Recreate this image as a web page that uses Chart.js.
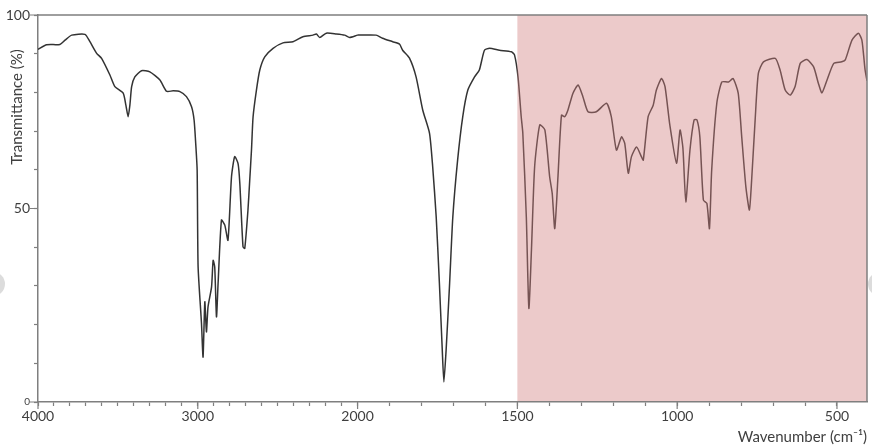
<!DOCTYPE html>
<html><head><meta charset="utf-8">
<script src="https://cdn.jsdelivr.net/npm/chart.js@4/dist/chart.umd.min.js"></script>
<style>html,body{margin:0;padding:0;background:#fff;overflow:hidden}</style>
</head><body>
<canvas id="c" width="872" height="448" style="width:872px;height:448px;display:block"></canvas>
<script>
// ---- data (wavenumber in cm^-1, transmittance in %) ----
const wavenumbers = [4000,3946,3863,3831,3789,3706,3675,3633,3602,3550,3519,3467,3450,3436,3425,3414,3394,3352,3300,3237,3196,3154,3112,3071,3039,3023,3013,3004,2998,2977,2967,2956,2946,2936,2914,2904,2894,2883,2873,2852,2831,2811,2789,2769,2748,2737,2717,2706,2686,2675,2664,2654,2633,2612,2581,2529,2467,2404,2342,2279,2258,2237,2196,2133,2081,2050,2000,1995,1942,1922,1890,1869,1859,1838,1817,1796,1775,1765,1754,1744,1735,1730,1723,1712,1702,1687,1671,1655,1634,1619,1603,1587,1556,1519,1509,1498,1488,1483,1472,1464,1456,1446,1430,1414,1399,1391,1383,1373,1362,1352,1342,1326,1310,1295,1279,1253,1221,1206,1190,1174,1164,1153,1143,1127,1112,1106,1091,1075,1065,1049,1038,1023,1002,991,982,973,960,947,938,929,918,907,899,892,876,860,839,825,809,798,785,774,767,756,746,730,693,678,662,646,631,615,594,573,558,547,531,510,485,474,453,433,422,412,406];
const transmittance = [91.1,92.3,92.4,93.5,94.8,95.0,93.1,90.1,88.8,84.5,81.5,79.8,76.7,73.7,76.7,81.5,84.0,85.6,85.3,83.2,80.3,80.4,80.2,78.9,76.3,72.8,66.8,59.9,34.9,20.4,11.6,25.9,18.1,24.6,29.7,36.6,34.9,22.0,30.6,47.0,45.7,41.8,58.2,63.4,61.6,56.5,40.1,39.7,49.6,57.3,65.1,73.7,80.6,85.8,89.2,91.4,92.8,93.1,94.4,94.8,95.1,94.2,95.3,95.1,94.8,94.2,94.8,94.8,94.8,94.0,93.1,92.5,90.9,88.9,84.0,75.4,69.5,60.8,47.8,30.7,13.4,5.2,13.4,30.7,47.8,62.5,73.7,80.6,84.0,85.8,90.9,91.4,90.9,90.5,89.7,84.0,73.7,69.5,47.8,24.2,39.2,60.8,71.6,70.3,58.2,53.9,44.8,58.2,74.1,73.7,75.4,79.8,81.9,78.9,75.0,75.0,77.2,73.7,65.1,68.5,66.8,59.1,63.4,65.9,63.4,62.5,73.7,76.7,80.6,83.6,81.5,71.6,61.7,70.3,65.6,51.7,65.1,72.9,72.9,68.5,52.2,51.3,44.8,59.9,77.2,82.7,82.7,83.6,79.8,68.5,55.6,49.6,57.3,72.9,84.9,87.9,88.8,85.8,80.6,79.3,81.5,87.5,88.5,86.6,82.3,79.9,83.2,87.5,87.9,88.4,93.5,95.3,93.5,85.8,83.0];
const xTickLabels = [4000, 3000, 2000, 1500, 1000, 500];
const yTickLabels = [0, 50, 100];
const shadedFrom = 1500;
const xMinValue = 406, xMaxValue = 4000, scaleBreak = 2000;
const xTitle = 'Wavenumber (cm\u207B\u00B9)';
const yTitle = 'Transmittance (%)';

// ---- IR axis: scale doubles below 2000 cm^-1 ----
class IRScale extends Chart.LinearScale {
  _u(v) { return v >= scaleBreak ? xMaxValue - v : (xMaxValue - scaleBreak) + 2 * (scaleBreak - v); }
  getPixelForValue(v) {
    if (v === null || v === undefined || isNaN(v)) return NaN;
    return this.getPixelForDecimal(this._u(v) / this._u(this.min));
  }
  getValueForPixel(p) {
    const u = this.getDecimalForPixel(p) * this._u(this.min);
    const b = xMaxValue - scaleBreak;
    return u <= b ? xMaxValue - u : scaleBreak - (u - b) / 2;
  }
}
IRScale.id = 'irscale';
IRScale.defaults = Chart.LinearScale.defaults;
Chart.register(IRScale);

const points = wavenumbers.map((w, i) => ({ x: w, y: transmittance[i] }));
const AXIS = '#7f7f7f';
const TXT = '#3f3f3f';
const FONT = 'Lato, "Liberation Sans", sans-serif';

const extras = {
  id: 'extras',
  beforeDraw(chart) {
    const c = chart.ctx;
    c.save();
    c.fillStyle = '#dcdcdc';
    c.beginPath(); c.arc(-7, 284, 12, 0, Math.PI * 2); c.fill();
    c.beginPath(); c.arc(880, 284, 12, 0, Math.PI * 2); c.fill();
    c.restore();
  },
  afterDatasetsDraw(chart) {
    const c = chart.ctx, a = chart.chartArea, xs = chart.scales.x, ys = chart.scales.y;
    c.save();
    const x0 = xs.getPixelForValue(shadedFrom);
    c.fillStyle = 'rgba(209,129,129,0.42)';
    c.fillRect(x0, a.top, a.right - x0, a.bottom - a.top - 1);
    // frame top / right
    c.strokeStyle = AXIS; c.lineWidth = 1.5;
    c.beginPath();
    c.moveTo(a.left, a.top); c.lineTo(a.right, a.top);
    c.moveTo(a.right, a.top); c.lineTo(a.right, a.bottom);
    c.stroke();
    // longer major ticks
    c.lineWidth = 1.2;
    c.beginPath();
    xTickLabels.forEach(v => { const px = xs.getPixelForValue(v); c.moveTo(px, a.bottom); c.lineTo(px, a.bottom + 7); });
    [0, 50, 100].forEach(v => { const py = ys.getPixelForValue(v); c.moveTo(a.left, py); c.lineTo(a.left - 8, py); });
    c.stroke();
    c.restore();
  },
  afterDraw(chart) {
    const c = chart.ctx, a = chart.chartArea;
    c.save();
    c.fillStyle = TXT;
    c.font = '15px ' + FONT;
    c.textAlign = 'right'; c.textBaseline = 'alphabetic';
    c.fillText(xTitle, a.right, 442);
    c.translate(22, 107);
    c.rotate(-Math.PI / 2);
    c.textAlign = 'center';
    c.fillText(yTitle, 0, 0);
    c.restore();
  }
};

new Chart(document.getElementById('c'), {
  type: 'line',
  data: { datasets: [{ data: points, borderColor: '#333333', borderWidth: 1.5, pointRadius: 0, tension: 0.2, fill: false }] },
  options: {
    responsive: false, animation: false, devicePixelRatio: 1,
    layout: { padding: { top: 15, right: 5, left: 0, bottom: 0 } },
    plugins: { legend: { display: false }, tooltip: { enabled: false } },
    scales: {
      x: {
        type: 'irscale', min: xMinValue, max: xMaxValue,
        afterFit: s => { s.height = 46; },
        afterBuildTicks: s => { const t = []; for (let v = xMaxValue; v >= 500; v -= 100) t.push({ value: v }); s.ticks = t; },
        border: { display: true, color: AXIS, width: 1.5 },
        grid: { drawOnChartArea: false, drawTicks: true, tickLength: 4, tickColor: AXIS, tickWidth: 1.2 },
        ticks: { autoSkip: false, maxRotation: 0, padding: 2, color: TXT, font: { family: FONT, size: 14 },
          callback: v => xTickLabels.includes(v) ? String(v) : '' }
      },
      y: {
        min: 0, max: 100,
        afterFit: s => { s.width = 38; },
        border: { display: true, color: AXIS, width: 1.5 },
        grid: { drawOnChartArea: false, drawTicks: true, tickLength: 4, tickColor: AXIS, tickWidth: 1.2 },
        ticks: { stepSize: 10, autoSkip: false, padding: 4, color: TXT,
          font: ctx => ({ family: FONT, size: (ctx.tick && ctx.tick.value === 0) ? 10 : 14 }),
          callback: v => yTickLabels.includes(v) ? String(v) : '' }
      }
    }
  },
  plugins: [extras]
});
</script>
</body></html>
